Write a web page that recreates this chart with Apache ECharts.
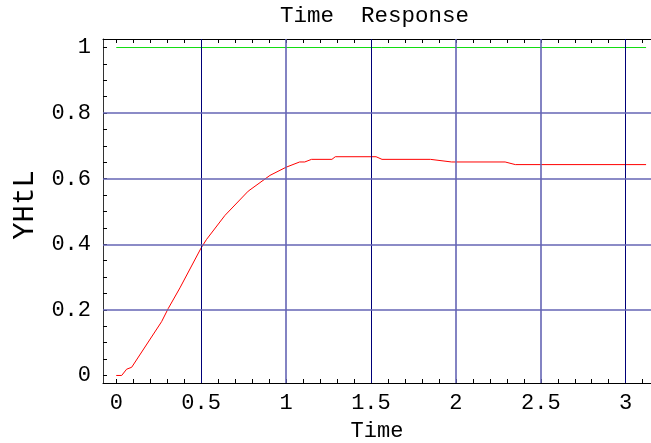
<!DOCTYPE html>
<html><head><meta charset="utf-8">
<script src="https://cdn.jsdelivr.net/npm/echarts@6/dist/echarts.min.js"></script>
<style>html,body{margin:0;padding:0;background:#fff}#c{width:651px;height:443px}</style>
</head><body><div id="c"></div>
<script>
// Step response samples
const timeValues = [0, 0.032, 0.061, 0.091, 0.267, 0.306, 0.375, 0.5, 0.532, 0.64, 0.777, 0.905, 1.0, 1.08, 1.11, 1.15, 1.27, 1.29, 1.53, 1.565, 1.85, 1.975, 2.29, 2.35, 3.12];
const responseValues = [0, 0, 0.019, 0.025, 0.164, 0.204, 0.267, 0.389, 0.415, 0.488, 0.562, 0.610, 0.635, 0.651, 0.651, 0.659, 0.659, 0.667, 0.667, 0.659, 0.659, 0.651, 0.651, 0.643, 0.643];
// Reference (setpoint) line
const referenceTime = [0, 3.12];
const referenceValues = [1, 1];
// Axis ticks
const xLabelTicks = [0, 0.5, 1, 1.5, 2, 2.5, 3];
const xMinorTicks = [0, 0.1, 0.2, 0.3, 0.4, 0.5, 0.6, 0.7, 0.8, 0.9, 1, 1.1, 1.2, 1.3, 1.4, 1.5, 1.6, 1.7, 1.8, 1.9, 2, 2.1, 2.2, 2.3, 2.4, 2.5, 2.6, 2.7, 2.8, 2.9, 3, 3.1];
const yLabelTicks = [0, 0.2, 0.4, 0.6, 0.8, 1];
const yMinorTicks = [0, 0.05, 0.1, 0.15, 0.2, 0.25, 0.3, 0.35, 0.4, 0.45, 0.5, 0.55, 0.6, 0.65, 0.7, 0.75, 0.8, 0.85, 0.9, 0.95, 1];
const xGridLines = [0.5, 1, 1.5, 2, 2.5, 3];
const yGridLines = [0.2, 0.4, 0.6, 0.8];

const FONT = 'Liberation Mono';
const xMin = -0.078, xMax = 3.149, yMin = -0.023, yMax = 1.026;
// grid-line looks (crisp navy vs. soft blue, as in the picture)
const gridDark = {color: '#000078', width: 1, type: 'solid'};
const gridSoft = {color: '#6464b4', width: 1.6, type: 'solid'};
const darkVertical = {0.5: true, 1.5: true, 3: true};

const chart = echarts.init(document.getElementById('c'), null, {renderer: 'canvas'});
const axisLineStyle = {color: '#000', width: 1};
chart.setOption({
  animation: false,
  backgroundColor: '#fff',
  title: {
    text: 'Time  Response', left: 280, top: 5, padding: 0,
    textStyle: {fontFamily: FONT, fontSize: 22.5, fontWeight: 'normal', color: '#000'}
  },
  grid: {left: 103, right: 0, top: 39, bottom: 60, containLabel: false, outerBoundsMode: 'none'},
  xAxis: [{
    type: 'value', position: 'bottom', min: xMin, max: xMax,
    axisLine: {show: true, onZero: false, lineStyle: axisLineStyle},
    axisTick: {show: true, inside: true, length: 4, customValues: xMinorTicks, lineStyle: axisLineStyle},
    axisLabel: {customValues: xLabelTicks, formatter: v => String(v), fontFamily: FONT, fontSize: 22, color: '#000', margin: 9},
    splitLine: {show: false},
    name: 'Time', nameLocation: 'middle', nameGap: 37,
    nameTextStyle: {fontFamily: FONT, fontSize: 22, color: '#000'}
  }, {
    type: 'value', position: 'top', min: xMin, max: xMax,
    axisLine: {show: true, onZero: false, lineStyle: axisLineStyle},
    axisTick: {show: true, inside: true, length: 4, customValues: xMinorTicks, lineStyle: axisLineStyle},
    axisLabel: {show: false},
    splitLine: {show: false}
  }],
  yAxis: {
    type: 'value', min: yMin, max: yMax,
    axisLine: {show: true, onZero: false, lineStyle: {color: '#333', width: 1}},
    axisTick: {show: true, inside: true, length: 4, customValues: yMinorTicks, lineStyle: axisLineStyle},
    axisLabel: {customValues: yLabelTicks, formatter: v => String(v), fontFamily: FONT, fontSize: 22, color: '#000', margin: 12},
    splitLine: {show: false},
    name: 'YHtL', nameLocation: 'middle', nameGap: 63,
    nameTextStyle: {fontFamily: FONT, fontSize: 29, color: '#000', padding: [0, 0, 0, 12]}
  },
  series: [{
    type: 'line', name: 'reference', xAxisIndex: 0,
    data: referenceTime.map((t, i) => [t, referenceValues[i]]),
    showSymbol: false, symbol: 'none',
    lineStyle: {color: '#10dd10', width: 1},
    markLine: {
      silent: true, symbol: ['none', 'none'], animation: false,
      label: {show: false},
      data: [].concat(
        xGridLines.map(v => ({xAxis: v, lineStyle: darkVertical[v] ? gridDark : gridSoft})),
        yGridLines.map(v => ({yAxis: v, lineStyle: gridSoft}))
      )
    }
  }, {
    type: 'line', name: 'response', xAxisIndex: 0,
    data: timeValues.map((t, i) => [t, responseValues[i]]),
    showSymbol: false, symbol: 'none',
    lineStyle: {color: '#ff0000', width: 1}
  }]
});
</script></body></html>
